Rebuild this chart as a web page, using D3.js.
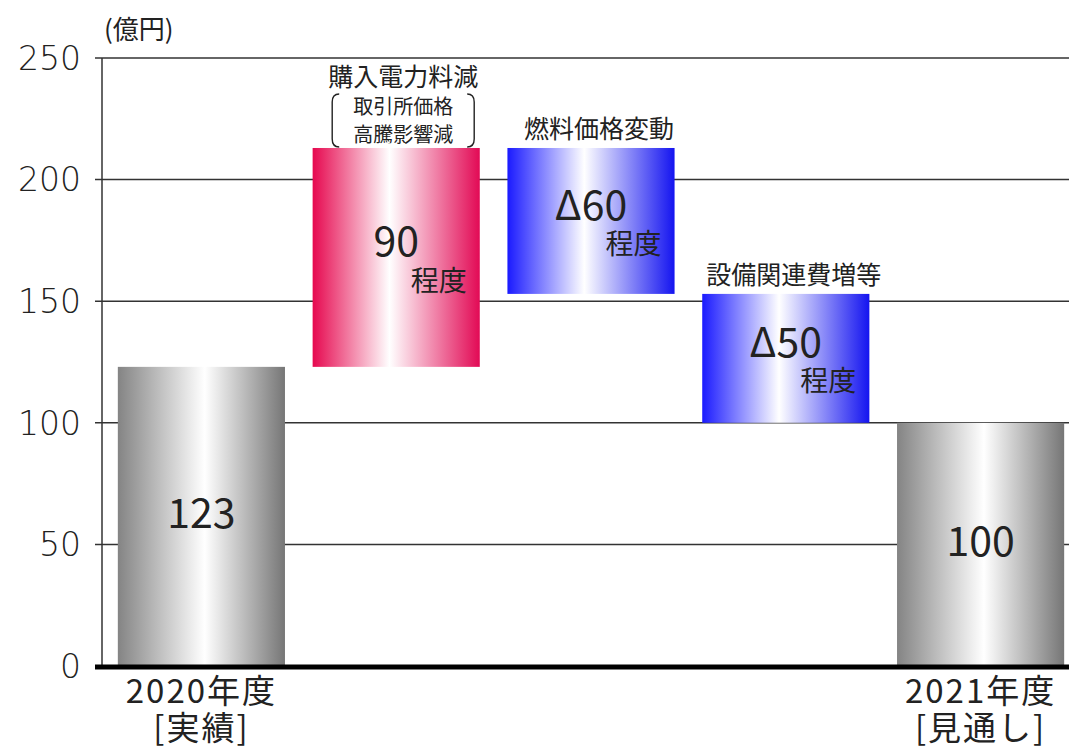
<html>
<head>
<meta charset="utf-8">
<script src="https://d3js.org/d3.v7.min.js"></script>
<style>
  body { margin: 0; background: #fff; }
  .jp { font-family: "Noto Sans CJK JP", sans-serif; fill: #222; }
  .tick { font-family: "DejaVu Sans", sans-serif; font-weight: 200; fill: #222; }
</style>
</head>
<body>
<svg id="chart" width="1069" height="751"></svg>
<script>
// waterfall data
const categories = ['2020年度', '購入電力料減', '燃料価格変動', '設備関連費増等', '2021年度'];
const kinds = ['total', 'delta', 'delta', 'delta', 'total'];
const values = [123, 90, -60, -53, 100];
const valueLabels = ['123', '90', 'Δ60', 'Δ50', '100'];
const subLabels = ['', '程度', '程度', '程度', ''];
const fills = ['gray', 'red', 'blue', 'blue', 'gray'];
const xLabels1 = ['2020年度', '', '', '', '2021年度'];
const xLabels2 = ['[実績]', '', '', '', '[見通し]'];
const yTicks = [0, 50, 100, 150, 200, 250];

const svg = d3.select('#chart');

const y = d3.scaleLinear().domain([0, 250]).range([666, 58]);
const x = d3.scaleBand().domain(categories).range([104, 1078])
    .paddingInner(0.142).paddingOuter(0.071);

// bars from - to
let run = 0;
const bars = categories.map(function(c, i){
    let lo, hi;
    if (kinds[i] == 'total') { lo = 0; hi = values[i]; run = values[i]; }
    else {
        const nxt = run + values[i];
        lo = Math.min(run, nxt); hi = Math.max(run, nxt); run = nxt;
    }
    return {cat: c, lo: lo, hi: hi, i: i};
});

// gradients
const defs = svg.append('defs');
const grads = {
    gray: [[0, '#848484'], [0.52, '#ffffff'], [1, '#767676']],
    red:  [[0, '#e6084f'], [0.46, '#ffffff'], [1, '#e20a55']],
    blue: [[0, '#1a1aff'], [0.46, '#ffffff'], [1, '#1414f0']]
};
Object.keys(grads).forEach(function(k){
    const g = defs.append('linearGradient').attr('id', 'g_' + k)
        .attr('x1', '0%').attr('x2', '100%').attr('y1', '0%').attr('y2', '0%');
    grads[k].forEach(function(s){
        g.append('stop').attr('offset', s[0]).attr('stop-color', s[1]);
    });
});

// gridlines + ticks
svg.append('g').selectAll('line').data(yTicks.filter(d => d > 0)).enter()
    .append('line')
    .attr('x1', 95).attr('x2', 1069)
    .attr('y1', d => y(d)).attr('y2', d => y(d))
    .attr('stroke', '#333').attr('stroke-width', 1.5);

svg.append('line')
    .attr('x1', 102).attr('x2', 102)
    .attr('y1', y(250)).attr('y2', y(0))
    .attr('stroke', '#333').attr('stroke-width', 1.5);

svg.append('g').selectAll('text').data(yTicks).enter()
    .append('text')
    .attr('class', 'tick')
    .attr('x', 81).attr('y', d => y(d))
    .attr('dy', '0.36em')
    .attr('text-anchor', 'end')
    .attr('font-size', 33)
    .text(d => d);

svg.append('text').attr('class', 'jp')
    .attr('x', 104).attr('y', 30).attr('dy', '0.36em')
    .attr('font-size', 26)
    .text('(億円)');

// bars
svg.append('g').selectAll('rect').data(bars).enter()
    .append('rect')
    .attr('x', d => x(d.cat))
    .attr('width', x.bandwidth())
    .attr('y', d => y(d.hi))
    .attr('height', d => y(d.lo) - y(d.hi))
    .attr('fill', d => 'url(#g_' + fills[d.i] + ')');

// baseline
svg.append('line')
    .attr('x1', 95).attr('x2', 1069)
    .attr('y1', y(0) + 1).attr('y2', y(0) + 1)
    .attr('stroke', '#000').attr('stroke-width', 5);

// value labels
bars.forEach(function(d){
    const cx = x(d.cat) + x.bandwidth() / 2;
    const cy = (y(d.hi) + y(d.lo)) / 2;
    if (kinds[d.i] == 'total') {
        svg.append('text').attr('class', 'jp')
            .attr('x', cx).attr('y', cy - 3)
            .attr('dy', '0.36em').attr('text-anchor', 'middle')
            .attr('font-size', 41).text(valueLabels[d.i]);
    } else {
        svg.append('text').attr('class', 'jp')
            .attr('x', cx).attr('y', cy - 16)
            .attr('dy', '0.36em').attr('text-anchor', 'middle')
            .attr('font-size', 41).text(valueLabels[d.i]);
        svg.append('text').attr('class', 'jp')
            .attr('x', x(d.cat) + x.bandwidth() - 13).attr('y', cy + 23)
            .attr('dy', '0.36em').attr('text-anchor', 'end')
            .attr('font-size', 28).text(subLabels[d.i]);
    }
});

// category titles above delta bars
bars.forEach(function(d){
    if (kinds[d.i] != 'delta') return;
    const cx = x(d.cat) + x.bandwidth() / 2;
    const top = y(d.hi);
    if (d.i == 1) {
        svg.append('text').attr('class', 'jp')
            .attr('x', cx + 7).attr('y', top - 71).attr('dy', '0.36em')
            .attr('text-anchor', 'middle').attr('font-size', 25).text(d.cat);
        svg.append('text').attr('class', 'jp')
            .attr('x', cx + 7).attr('y', top - 41).attr('dy', '0.36em')
            .attr('text-anchor', 'middle').attr('font-size', 20).text('取引所価格');
        svg.append('text').attr('class', 'jp')
            .attr('x', cx + 7).attr('y', top - 13).attr('dy', '0.36em')
            .attr('text-anchor', 'middle').attr('font-size', 20).text('高騰影響減');
        // brackets
        const l = cx - 64, r = cx + 78, t = top - 54, b = top - 1;
        svg.append('path')
            .attr('d', `M${l+7},${t} Q${l},${t} ${l},${t+8} L${l},${b-8} Q${l},${b} ${l+7},${b}`)
            .attr('fill', 'none').attr('stroke', '#222').attr('stroke-width', 1.4);
        svg.append('path')
            .attr('d', `M${r-7},${t} Q${r},${t} ${r},${t+8} L${r},${b-8} Q${r},${b} ${r-7},${b}`)
            .attr('fill', 'none').attr('stroke', '#222').attr('stroke-width', 1.4);
    } else {
        svg.append('text').attr('class', 'jp')
            .attr('x', cx + 8).attr('y', top - 19).attr('dy', '0.36em')
            .attr('text-anchor', 'middle').attr('font-size', 25).text(d.cat);
    }
});

// x labels
bars.forEach(function(d){
    if (!xLabels1[d.i]) return;
    const cx = x(d.cat) + x.bandwidth() / 2;
    svg.append('text').attr('class', 'jp')
        .attr('x', cx).attr('y', 703)
        .attr('text-anchor', 'middle').attr('font-size', 33)
        .attr('letter-spacing', 2).text(xLabels1[d.i]);
    svg.append('text').attr('class', 'jp')
        .attr('x', cx).attr('y', 740)
        .attr('text-anchor', 'middle').attr('font-size', 33)
        .attr('letter-spacing', 2).text(xLabels2[d.i]);
});
</script>
</body>
</html>
